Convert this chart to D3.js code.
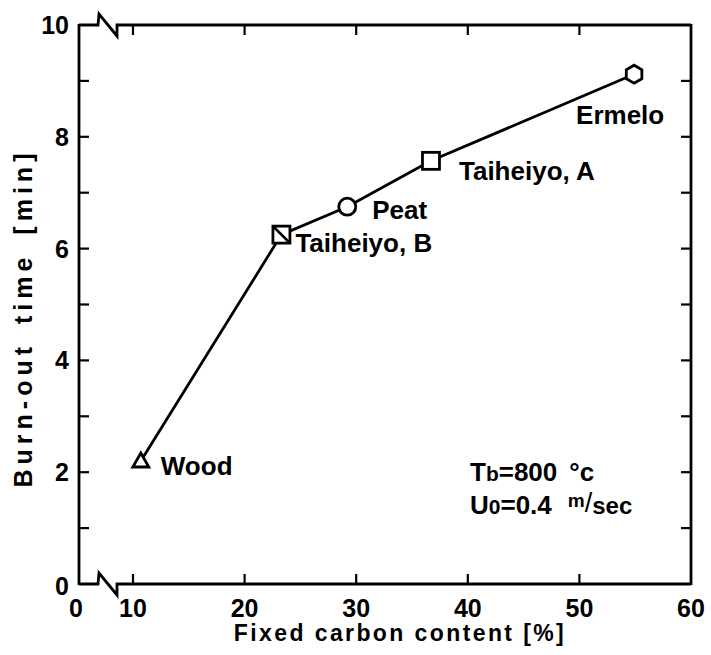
<!DOCTYPE html>
<html>
<head>
<meta charset="utf-8">
<script src="https://cdn.jsdelivr.net/npm/d3@7"></script>
<style>
  html, body { margin: 0; padding: 0; background: #fff; }
  svg text { font-family: "Liberation Sans", Arial, sans-serif; fill: #000; }
</style>
</head>
<body>
<svg id="chart" width="711" height="655"></svg>
<script>
// Fuels and their measured burn-out times
const fuels       = ["Wood", "Taiheiyo, B", "Peat", "Taiheiyo, A", "Ermelo"];
const fixedCarbon = [10.7, 23.3, 29.2, 36.7, 54.9];   // [%]
const burnOutTime = [2.2, 6.25, 6.75, 7.57, 9.12];    // [min]
const markerShape = ["triangle", "squareSlash", "circle", "square", "hexagon"];

const xTickValues = [10, 20, 30, 40, 50, 60];
const yTickValues = [0, 2, 4, 6, 8, 10];
const yMinorTicks = [1, 3, 5, 7, 9];

(function () {
const svg = d3.select("#chart");
const pLeft = 79, pRight = 691, pTop = 25, pBottom = 584;
const xZero = pLeft - 3;           // the "0" placed before the axis break

const x = d3.scaleLinear().domain([10, 60]).range([133, pRight]);
const y = d3.scaleLinear().domain([0, 10]).range([pBottom, pTop]);

const ink = "#000";
const sw = 2.8;
const g = svg.append("g");

// Frame with axis-break zigzags on the top and bottom edges
const brk = (yy) => [
  [pLeft, yy], [98, yy], [99, yy - 11], [117, yy + 11], [117, yy]
];
const line = d3.line();
g.append("path").attr("d", line([...brk(pBottom), [pRight, pBottom]]))
  .attr("fill", "none").attr("stroke", ink).attr("stroke-width", sw);
g.append("path").attr("d", line([...brk(pTop), [pRight, pTop]]))
  .attr("fill", "none").attr("stroke", ink).attr("stroke-width", sw);
g.append("line").attr("x1", pLeft).attr("x2", pLeft).attr("y1", pTop - 1).attr("y2", pBottom + 1)
  .attr("stroke", ink).attr("stroke-width", sw);
g.append("line").attr("x1", pRight).attr("x2", pRight).attr("y1", pTop - 1).attr("y2", pBottom + 1)
  .attr("stroke", ink).attr("stroke-width", sw);

// Inward ticks on all four sides
const tickLen = 10;
const yTicksAll = [...yTickValues, ...yMinorTicks].filter(v => v > 0 && v < 10);
yTicksAll.forEach(v => {
  g.append("line").attr("x1", pLeft).attr("x2", pLeft + tickLen)
    .attr("y1", y(v)).attr("y2", y(v)).attr("stroke", ink).attr("stroke-width", 2.2);
  g.append("line").attr("x1", pRight).attr("x2", pRight - tickLen)
    .attr("y1", y(v)).attr("y2", y(v)).attr("stroke", ink).attr("stroke-width", 2.2);
});
xTickValues.filter(v => v < 60).forEach(v => {
  g.append("line").attr("x1", x(v)).attr("x2", x(v))
    .attr("y1", pBottom).attr("y2", pBottom - tickLen).attr("stroke", ink).attr("stroke-width", 2.2);
  g.append("line").attr("x1", x(v)).attr("x2", x(v))
    .attr("y1", pTop).attr("y2", pTop + tickLen).attr("stroke", ink).attr("stroke-width", 2.2);
});

// Tick labels
const tickFont = 25;
yTickValues.forEach(v => {
  g.append("text").attr("x", pLeft - 10).attr("y", y(v) + (v === 0 ? 2 : 0))
    .attr("dy", "0.36em").attr("text-anchor", "end")
    .attr("font-size", tickFont).attr("font-weight", "bold").text(v);
});
g.append("text").attr("x", xZero).attr("y", pBottom + 33)
  .attr("text-anchor", "middle").attr("font-size", tickFont).attr("font-weight", "bold").text(0);
xTickValues.forEach(v => {
  g.append("text").attr("x", x(v)).attr("y", pBottom + 33)
    .attr("text-anchor", "middle").attr("font-size", tickFont).attr("font-weight", "bold").text(v);
});

// Axis titles
g.append("text").attr("x", 400).attr("y", 641)
  .attr("text-anchor", "middle").attr("font-size", 23).attr("font-weight", "bold")
  .attr("letter-spacing", 2.4).text("Fixed carbon content [%]");
g.append("text").attr("transform", "translate(32,318) rotate(-90)")
  .attr("text-anchor", "middle").attr("font-size", 25).attr("font-weight", "bold")
  .attr("letter-spacing", 5).attr("word-spacing", 6).text("Burn-out time [min]");

// Connecting line
const pts = fixedCarbon.map((c, i) => [x(c), y(burnOutTime[i])]);
g.append("path").attr("d", d3.line()(pts))
  .attr("fill", "none").attr("stroke", ink).attr("stroke-width", sw);

// Markers
const m = g.append("g").attr("fill", "#fff").attr("stroke", ink).attr("stroke-width", sw);
pts.forEach(([px, py], i) => {
  const s = markerShape[i];
  if (s === "triangle") {
    m.append("path").attr("d", `M${px},${py - 8} L${px + 8},${py + 6} L${px - 8},${py + 6} Z`);
  } else if (s === "square" || s === "squareSlash") {
    m.append("rect").attr("x", px - 8.5).attr("y", py - 8.5).attr("width", 17).attr("height", 17);
    if (s === "squareSlash")
      m.append("line").attr("x1", px - 8.5).attr("y1", py - 8.5).attr("x2", px + 8.5).attr("y2", py + 8.5);
  } else if (s === "circle") {
    m.append("circle").attr("cx", px).attr("cy", py).attr("r", 8.5);
  } else if (s === "hexagon") {
    const hex = d3.range(6).map(k => {
      const a = Math.PI / 3 * k + Math.PI / 6;
      return [px + 9 * Math.cos(a), py + 9 * Math.sin(a)];
    });
    m.append("path").attr("d", d3.line()(hex) + "Z");
  }
});

// Fuel labels
const labelOffset = [[20, 14], [14, 17], [25, 12], [28, 19], [-58, 50]];
pts.forEach(([px, py], i) => {
  g.append("text").attr("x", px + labelOffset[i][0]).attr("y", py + labelOffset[i][1])
    .attr("font-size", 26).attr("font-weight", "bold").text(fuels[i]);
});

// Operating conditions
const t1 = g.append("text").attr("x", 470).attr("y", 481).attr("font-size", 26).attr("font-weight", "bold");
t1.append("tspan").text("T");
t1.append("tspan").attr("font-size", 21).text("b");
t1.append("tspan").text("=800");
t1.append("tspan").attr("dx", 12).text("°c");
const t2 = g.append("text").attr("x", 470).attr("y", 514).attr("font-size", 26).attr("font-weight", "bold");
t2.append("tspan").text("U");
t2.append("tspan").attr("font-size", 21).text("0");
t2.append("tspan").text("=0.4");
t2.append("tspan").attr("dx", 16).attr("dy", -7).attr("font-size", 19).text("m");
t2.append("tspan").attr("dy", 5).attr("font-size", 27).attr("font-weight", "normal").text("/");
t2.append("tspan").attr("dy", 2).attr("font-size", 24).text("sec");
})();
</script>
</body>
</html>
